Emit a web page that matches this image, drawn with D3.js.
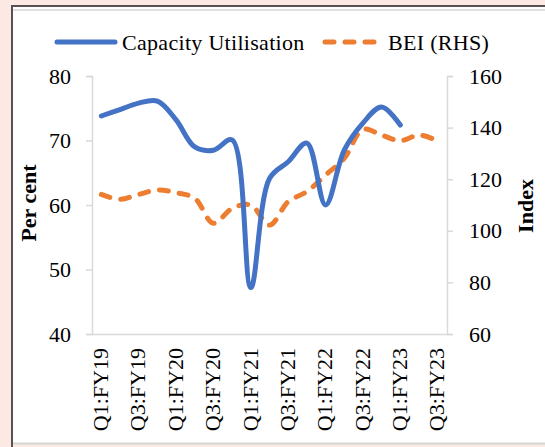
<!DOCTYPE html>
<html><head><meta charset="utf-8">
<script src="https://cdn.jsdelivr.net/npm/d3@7"></script>
<style>
html,body{margin:0;padding:0;background:#fde9e3;}
svg{display:block;}
text{font-family:"Liberation Serif","Times New Roman",serif;fill:#000;}
</style></head>
<body>
<svg id="c" width="545" height="447"></svg>
<script>
const categories = ["Q1:FY19","Q2:FY19","Q3:FY19","Q4:FY19","Q1:FY20","Q2:FY20","Q3:FY20","Q4:FY20",
  "Q1:FY21","Q2:FY21","Q3:FY21","Q4:FY21","Q1:FY22","Q2:FY22","Q3:FY22","Q4:FY22",
  "Q1:FY23","Q2:FY23","Q3:FY23"];
const tickLabels = ["Q1:FY19","Q3:FY19","Q1:FY20","Q3:FY20","Q1:FY21","Q3:FY21","Q1:FY22","Q3:FY22","Q1:FY23","Q3:FY23"];
const capacityUtilisation = [73.8,74.8,75.8,76.1,73.2,69.0,68.5,70.1,47.2,64.1,66.7,69.6,60.0,68.5,72.7,75.2,72.4];
const bei = [114.1,112.2,114.1,115.8,114.8,112.6,102.9,108.7,110.0,102.2,111.3,115.2,121.6,128.1,139.3,137.1,134.9,137.1,134.9];
const leftTicks = [40,50,60,70,80];
const rightTicks = [60,80,100,120,140,160];

const svg = d3.select("#c");
// frame
svg.append("rect").attr("x",12).attr("y",5).attr("width",533).attr("height",438).attr("fill","#fff");
svg.append("line").attr("x1",13).attr("x2",545).attr("y1",10).attr("y2",10).attr("stroke","#e0e0e0").attr("stroke-width",2);
svg.append("line").attr("x1",12).attr("x2",545).attr("y1",443.5).attr("y2",443.5).attr("stroke","#d6d6d6").attr("stroke-width",2);
svg.append("path").attr("d","M12,447V6H545").attr("fill","none").attr("stroke","#5b5050").attr("stroke-width",2);

const L=92,R=447,T=76,B=334;
const x = d3.scalePoint().domain(categories).range([L,R]).padding(0.5);
const yL = d3.scaleLinear().domain([40,80]).range([B,T]);
const yR = d3.scaleLinear().domain([60,160]).range([B,T]);

const fs = "22px";
const axisColor = "#d9d9d9";

const gL = svg.append("g").attr("transform",`translate(${L},0)`)
  .call(d3.axisLeft(yL).tickValues(leftTicks).tickSize(6).tickPadding(15).tickFormat(d3.format("d")));
const gR = svg.append("g").attr("transform",`translate(${R},0)`)
  .call(d3.axisRight(yR).tickValues(rightTicks).tickSize(6).tickPadding(16).tickFormat(d3.format("d")));
const gB = svg.append("g").attr("transform",`translate(0,${B})`)
  .call(d3.axisBottom(x).tickValues(tickLabels).tickSize(0).tickPadding(0));
[gL,gR,gB].forEach(g=>{
  g.select(".domain").attr("stroke",axisColor).attr("stroke-width",1.5);
  g.selectAll(".tick line").attr("stroke",axisColor).attr("stroke-width",1.5);
  g.selectAll("text").attr("font-family","Liberation Serif").attr("font-size",fs).attr("fill","#000");
});
gB.select(".domain").attr("d",`M${L},0.5H${R}`);
gB.selectAll(".tick text").attr("text-anchor","end").attr("transform","translate(-1.5,14) rotate(-90)")
  .attr("x",0).attr("y",0).attr("dy","0.35em");

// axis titles
svg.append("text").attr("transform",`translate(28,203) rotate(-90)`).attr("text-anchor","middle")
  .attr("dy","0.35em").attr("font-size",fs).attr("font-weight","bold").text("Per cent");
svg.append("text").attr("transform",`translate(525,206) rotate(-90)`).attr("text-anchor","middle")
  .attr("dy","0.35em").attr("font-size",fs).attr("font-weight","bold").text("Index");

const curve = d3.curveCatmullRom.alpha(0.5);
const lineL = d3.line().x((d,i)=>x(categories[i])).y(d=>yL(d)).curve(curve);
const lineR = d3.line().x((d,i)=>x(categories[i])).y(d=>yR(d)).curve(curve);

svg.append("path").datum(bei).attr("d",lineR).attr("fill","none").attr("stroke","#ED7D31")
  .attr("stroke-width",5).attr("stroke-linecap","round").attr("stroke-dasharray","9 11");
svg.append("path").datum(capacityUtilisation).attr("d",lineL).attr("fill","none").attr("stroke","#4472C4")
  .attr("stroke-width",5).attr("stroke-linecap","round").attr("stroke-linejoin","round");

// legend
const lg = svg.append("g");
lg.append("line").attr("x1",57).attr("x2",115).attr("y1",42).attr("y2",42).attr("stroke","#4472C4").attr("stroke-width",5).attr("stroke-linecap","round");
lg.append("text").attr("x",122).attr("y",42).attr("dy","0.35em").attr("font-size",fs).attr("letter-spacing","0.3px").text("Capacity Utilisation");
lg.append("line").attr("x1",325).attr("x2",376).attr("y1",42).attr("y2",42).attr("stroke","#ED7D31").attr("stroke-width",5).attr("stroke-linecap","round").attr("stroke-dasharray","9 11");
lg.append("text").attr("x",388).attr("y",42).attr("dy","0.35em").attr("font-size",fs).attr("letter-spacing","0.3px").text("BEI (RHS)");
</script>
</body></html>
